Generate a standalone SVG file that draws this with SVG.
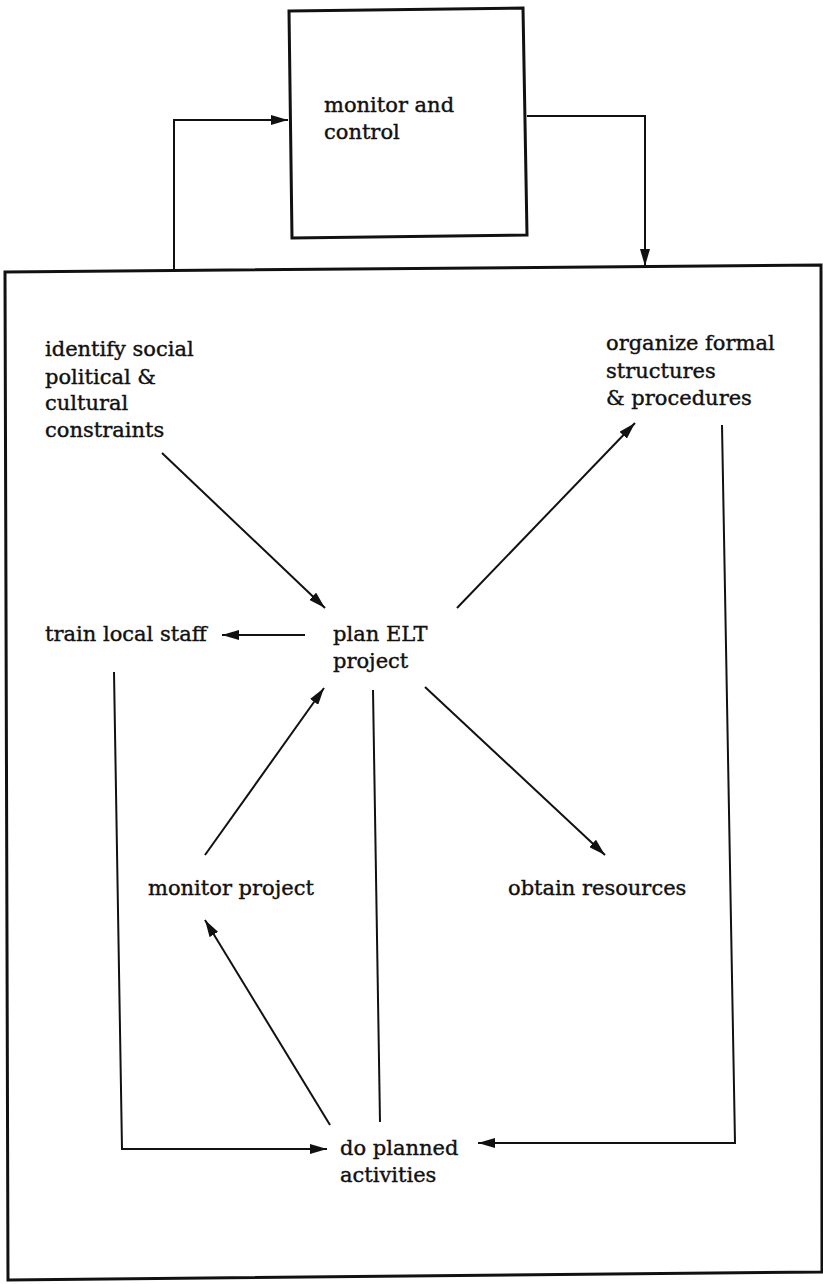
<svg xmlns="http://www.w3.org/2000/svg" width="823" height="1284" viewBox="0 0 823 1284">
<style>
text{font-family:"DejaVu Serif","Liberation Serif",serif;font-size:21px;fill:#111;stroke:#111;stroke-width:0.4}
.box{fill:none;stroke:#111;stroke-width:3}
.c{fill:none;stroke:#111;stroke-width:2}
</style>
<defs>
<marker id="ah" markerUnits="userSpaceOnUse" markerWidth="18" markerHeight="10" refX="17" refY="5" orient="auto">
<path d="M0,0 L17,5 L0,10 Z" fill="#111"/>
</marker>
</defs>
<rect width="823" height="1284" fill="#fff"/>
<g id="outer"><path class="box" d="M5,272 L821,265 L822,1272 L8,1280 Z"/></g>
<g id="monitor-control">
<path class="box" d="M289,11 L523,8 L527,235 L292,238 Z"/>
<text x="324" y="112">monitor and</text>
<text x="324" y="139">control</text>
</g>
<g id="identify"><text x="45" y="356"><tspan x="45">identify social</tspan><tspan x="45" dy="28">political &amp;</tspan><tspan x="45" dy="26">cultural</tspan><tspan x="45" dy="27">constraints</tspan></text></g>
<g id="organize"><text x="606" y="350"><tspan x="606">organize formal</tspan><tspan x="606" dy="28">structures</tspan><tspan x="606" dy="27">&amp; procedures</tspan></text></g>
<g id="train"><text x="45" y="641">train local staff</text></g>
<g id="plan"><text x="333" y="641"><tspan x="333">plan ELT</tspan><tspan x="333" dy="27">project</tspan></text></g>
<g id="monitor-project"><text x="148" y="895">monitor project</text></g>
<g id="obtain"><text x="508" y="895">obtain resources</text></g>
<g id="do-planned"><text x="340" y="1155"><tspan x="340">do planned</tspan><tspan x="340" dy="27">activities</tspan></text></g>
<g id="connectors">
<path class="c" d="M174,270 V120 H288" marker-end="url(#ah)"/>
<path class="c" d="M527,116 H645 V266" marker-end="url(#ah)"/>
<path class="c" d="M162,453 L325,608" marker-end="url(#ah)"/>
<path class="c" d="M457,608 L635,423" marker-end="url(#ah)"/>
<path class="c" d="M305,635 H222" marker-end="url(#ah)"/>
<path class="c" d="M425,687 L605,855" marker-end="url(#ah)"/>
<path class="c" d="M205,855 L324,688" marker-end="url(#ah)"/>
<path class="c" d="M330,1125 L205,920" marker-end="url(#ah)"/>
<path class="c" d="M373,690 L380,1122"/>
<path class="c" d="M114,672 L122,1149 H327" marker-end="url(#ah)"/>
<path class="c" d="M722,425 L735,1143 H478" marker-end="url(#ah)"/>
</g>
</svg>
